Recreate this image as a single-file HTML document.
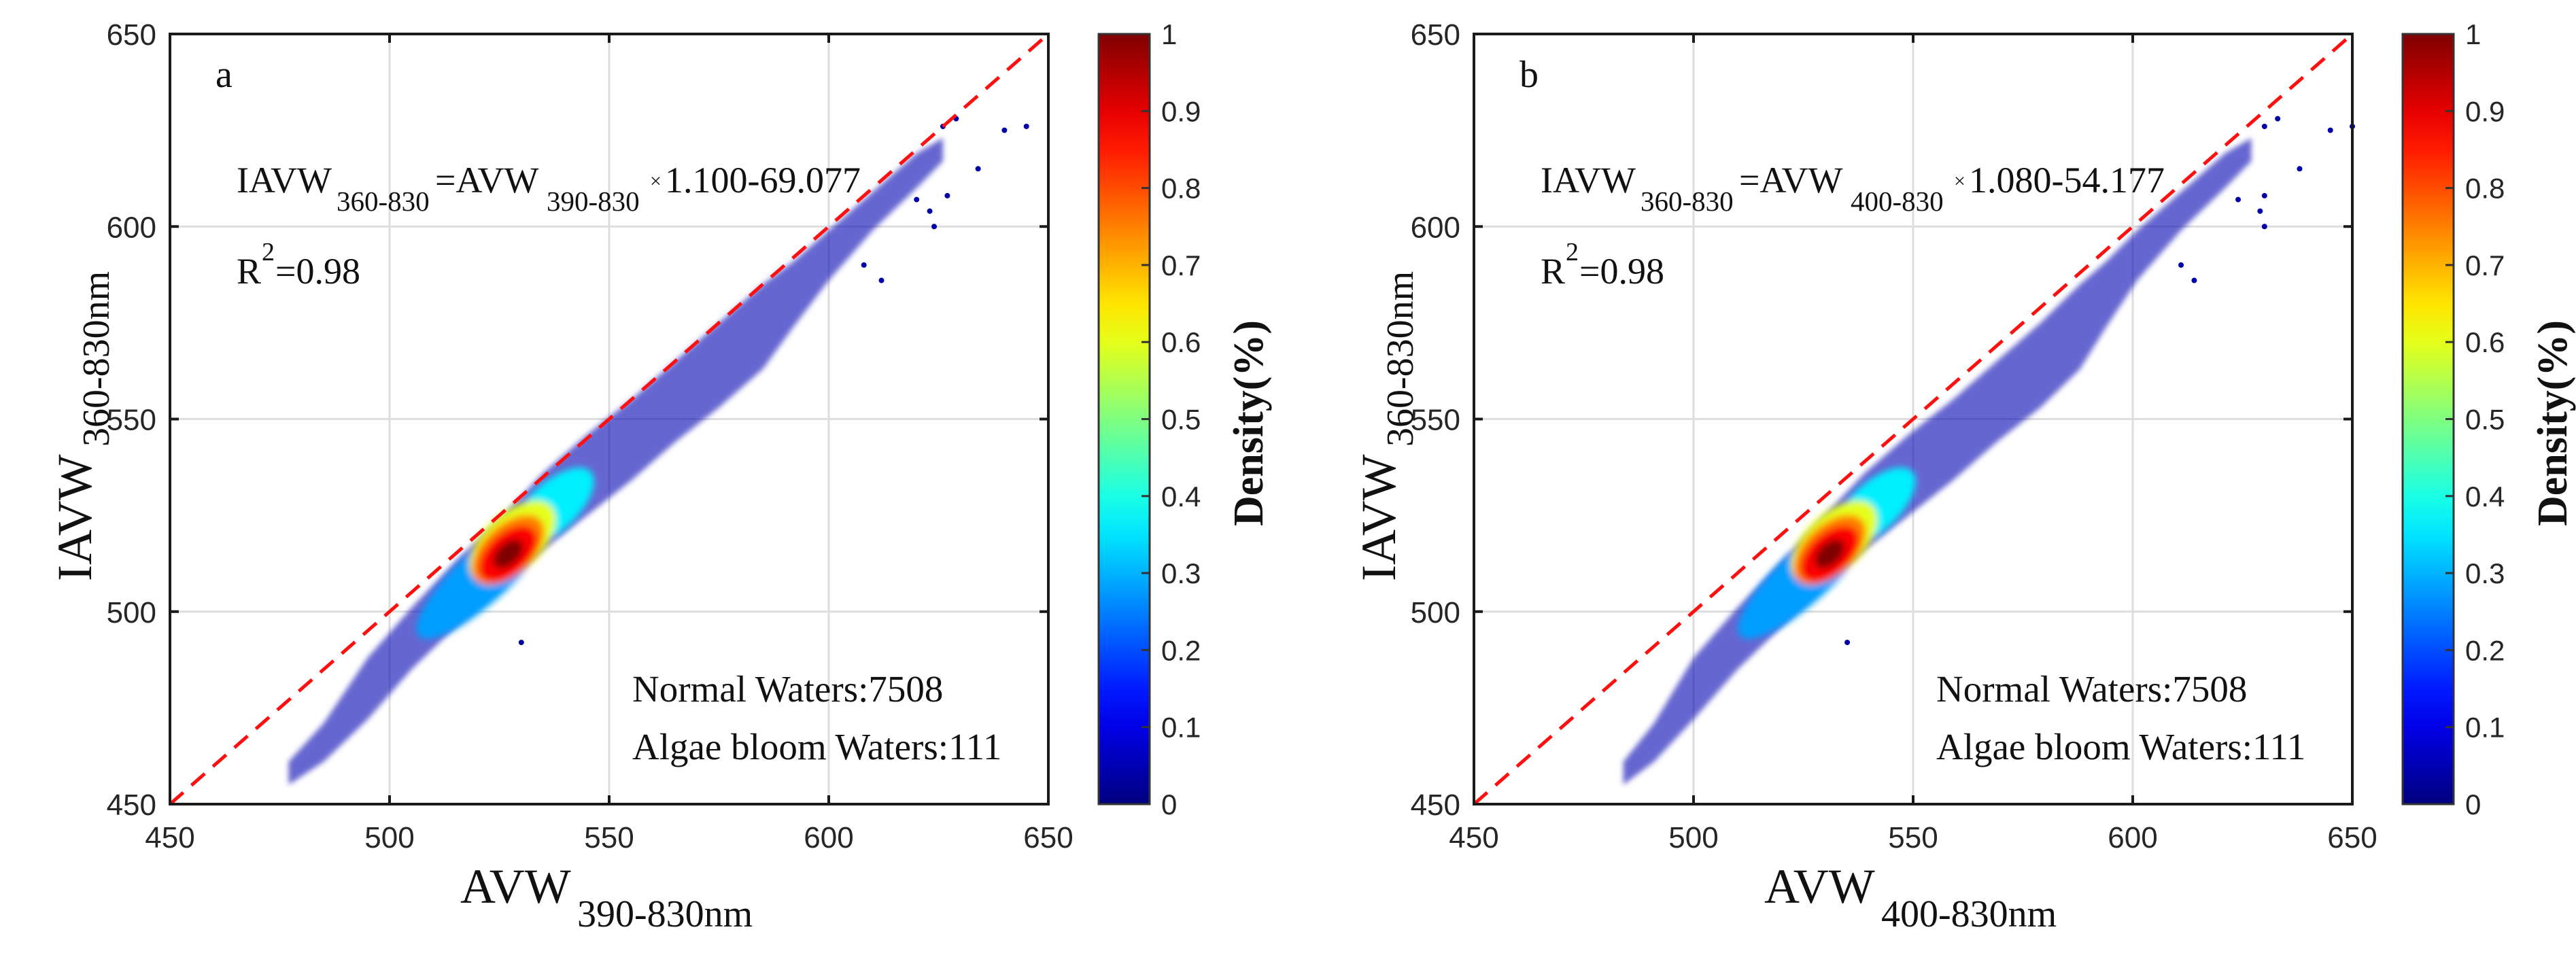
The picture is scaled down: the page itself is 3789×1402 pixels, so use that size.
<!DOCTYPE html>
<html><head><meta charset="utf-8"><title>AVW vs IAVW density scatter</title>
<style>
html,body{margin:0;padding:0;background:#fff;}
svg{display:block;}
.tick{font-family:"Liberation Sans",Arial,sans-serif;font-size:44px;fill:#262626;}
.cbt{font-family:"Liberation Sans",Arial,sans-serif;font-size:42px;fill:#262626;}
.tm{font-family:"Liberation Serif","Times New Roman",serif;fill:#111;}
</style></head>
<body>
<svg id="fig" width="3789" height="1402" viewBox="0 0 3789 1402" xmlns="http://www.w3.org/2000/svg"></svg>
<script>
// ---------- data ----------
const ticks = [450, 500, 550, 600, 650];
const cbTicks = [0, 0.1, 0.2, 0.3, 0.4, 0.5, 0.6, 0.7, 0.8, 0.9, 1];
const cbTickLabels = ["0", "0.1", "0.2", "0.3", "0.4", "0.5", "0.6", "0.7", "0.8", "0.9", "1"];

// panel a : scatter envelope (x, lower y, upper y)
const bandXA = [477, 485, 495, 505, 515, 525, 535, 545, 555, 565, 575, 585, 592, 600, 610, 620, 626];
const bandLoA = [455, 461, 472, 485, 496, 506, 516, 525, 534, 544, 553, 563, 574, 586, 599, 610, 617];
const bandHiA = [461, 471, 488, 501, 513, 524, 536, 546, 555, 565, 575, 585, 591, 599, 609, 619, 623];
// density blobs: centre x, centre y, half-length (x units), half-width (x units), density
const blobXA = [522, 537, 528, 527, 527, 527];
const blobYA = [510, 527, 518, 516, 515, 515];
const blobLA = [21, 12, 12, 10, 8, 4];
const blobWA = [6, 5.5, 6.5, 5.6, 4.6, 2.4];
const blobDA = [0.28, 0.36, 0.6, 0.75, 0.88, 1.0];
const outXA = [645, 640, 634, 627, 624, 623, 612, 530, 620, 626, 629, 608];
const outYA = [626, 625, 615, 608, 600, 604, 586, 492, 607, 626, 628, 590];

// panel b
const bandXB = [484, 491, 500, 510, 520, 529, 539, 549, 559, 569, 579, 588, 594, 601, 611, 621, 627];
const bandLoB = [455, 461, 472, 485, 496, 506, 516, 525, 534, 544, 553, 563, 574, 586, 599, 610, 617];
const bandHiB = [461, 471, 488, 501, 513, 524, 536, 546, 555, 565, 575, 585, 591, 599, 609, 619, 623];
const blobXB = [526, 541, 532, 531, 531, 531];
const blobYB = [510, 527, 518, 516, 515, 515];
const blobLB = [21, 12, 12, 10, 8, 4];
const blobWB = [6, 5.5, 6.5, 5.6, 4.6, 2.4];
const blobDB = [0.28, 0.36, 0.6, 0.75, 0.88, 1.0];
const outXB = [650, 645, 638, 630, 630, 629, 614, 535, 624, 630, 633, 611];
const outYB = [626, 625, 615, 608, 600, 604, 586, 492, 607, 626, 628, 590];

// ---------- helpers ----------
const NS = "http://www.w3.org/2000/svg";
const svg = document.getElementById("fig");
function mk(tag, attrs, parent, text) {
  const e = document.createElementNS(NS, tag);
  for (const k in attrs) e.setAttribute(k, attrs[k]);
  if (text !== undefined) e.textContent = text;
  (parent || svg).appendChild(e);
  return e;
}
function jet(v) {
  const c = t => Math.round(255 * Math.max(0, Math.min(1, t)));
  return "rgb(" + c(1.5 - Math.abs(4 * v - 3)) + "," + c(1.5 - Math.abs(4 * v - 2)) + "," + c(1.5 - Math.abs(4 * v - 1)) + ")";
}
const defs = mk("defs", {});
const grad = mk("linearGradient", {id: "jetg", x1: "0", y1: "1", x2: "0", y2: "0"}, defs);
for (let i = 0; i <= 20; i++) mk("stop", {offset: (i / 20), "stop-color": jet(i / 20)}, grad);
const blur = mk("filter", {id: "soft", x: "-20%", y: "-20%", width: "140%", height: "140%"}, defs);
mk("feGaussianBlur", {stdDeviation: "5"}, blur);
const blur2 = mk("filter", {id: "soft2", x: "-5%", y: "-5%", width: "110%", height: "110%"}, defs);
mk("feGaussianBlur", {stdDeviation: "4"}, blur2);

function panel(o) {
  const L = o.left, R = o.left + 1292, T = 50, B = 1183;
  const sx = v => L + (v - 450) / 200 * (R - L);
  const sy = v => B - (v - 450) / 200 * (B - T);
  const g = mk("g", {});
  
  

  ticks.forEach(t => {
    if (t > 450 && t < 650) {
      const gx = mk("line", {x1: sx(t), x2: sx(t), y1: T, y2: B, stroke: "#dedede", "stroke-width": 3}, g);
      
      
      const gy = mk("line", {x1: L, x2: R, y1: sy(t), y2: sy(t), stroke: "#dedede", "stroke-width": 3}, g);
      
      
    }
  });

  let pts = [];
  for (let i = 0; i < o.bx.length; i++) pts.push(sx(o.bx[i]) + "," + sy(o.bhi[i]));
  for (let i = o.bx.length - 1; i >= 0; i--) pts.push(sx(o.bx[i]) + "," + sy(o.blo[i]));
  const band = mk("polygon", {points: pts.join(" "), fill: "#0000b0", "fill-opacity": 0.6, filter: "url(#soft2)"}, g);
  
  

  for (let i = 0; i < o.ox.length; i++) {
    const d = mk("circle", {cx: sx(o.ox[i]), cy: sy(o.oy[i]), r: 4, fill: "#0000a8"}, g);
    
    
  }

  const pxu = (R - L) / 200;
  const bg = mk("g", {filter: "url(#soft)"}, g);
  
  
  for (let i = 0; i < o.cx.length; i++) {
    const cx = sx(o.cx[i]), cy = sy(o.cy[i]);
    const e = mk("ellipse", {cx: cx, cy: cy, rx: o.cl[i] * pxu, ry: o.cw[i] * pxu, fill: jet(o.cd[i]),
      transform: "rotate(-43 " + cx + " " + cy + ")"}, bg);
    
    
  }

  const dl = mk("line", {x1: sx(450), y1: sy(450), x2: sx(650), y2: sy(650), stroke: "#ff1010", "stroke-width": 5, "stroke-dasharray": "26 16"}, g);
  
  

  const box = mk("rect", {x: L, y: T, width: R - L, height: B - T, fill: "none", stroke: "#1a1a1a", "stroke-width": 4}, g);
  
  

  ticks.forEach(t => {
    [[sx(t), B, sx(t), B - 13], [sx(t), T, sx(t), T + 13], [L, sy(t), L + 13, sy(t)], [R, sy(t), R - 13, sy(t)]].forEach(c => {
      const tk = mk("line", {x1: c[0], y1: c[1], x2: c[2], y2: c[3], stroke: "#1a1a1a", "stroke-width": 4}, g);
      
      
    });
    const xl = mk("text", {x: sx(t), y: 1247, "text-anchor": "middle", class: "tick"}, g, String(t));
    
    
    const yl = mk("text", {x: L - 20, y: sy(t) + 16, "text-anchor": "end", class: "tick"}, g, String(t));
    
    
  });

  const pl = mk("text", {x: L + 67, y: 128, class: "tm", "font-size": 56}, g, o.letter);
  
  

  const eq = mk("g", {}, g);
  
  
  mk("text", {x: L + 98, y: 283, class: "tm", "font-size": 54}, eq, "IAVW");
  mk("text", {x: L + 245, y: 310, class: "tm", "font-size": 41}, eq, "360-830");
  mk("text", {x: L + 390, y: 283, class: "tm", "font-size": 54}, eq, "=AVW");
  mk("text", {x: L + 554, y: 310, class: "tm", "font-size": 41}, eq, o.sub);
  mk("text", {x: L + 706, y: 276, class: "tm", "font-size": 30}, eq, "×");
  mk("text", {x: L + 728, y: 283, class: "tm", "font-size": 54}, eq, o.coef);

  const r2 = mk("g", {}, g);
  
  
  mk("text", {x: L + 98, y: 417, class: "tm", "font-size": 54}, r2, "R");
  mk("text", {x: L + 135, y: 383, class: "tm", "font-size": 38}, r2, "2");
  mk("text", {x: L + 155, y: 417, class: "tm", "font-size": 54}, r2, "=0.98");

  const n1 = mk("text", {x: L + 680, y: 1032, class: "tm", "font-size": 55}, g, "Normal Waters:7508");
  
  
  const n2 = mk("text", {x: L + 680, y: 1117, class: "tm", "font-size": 55}, g, "Algae bloom Waters:111");
  
  

  const xt = mk("g", {}, g);
  
  
  mk("text", {x: L + 427, y: 1328, class: "tm", "font-size": 72}, xt, "AVW");
  mk("text", {x: L + 599, y: 1363, class: "tm", "font-size": 56}, xt, o.xsub);

  const yt = mk("g", {transform: "translate(" + (L - 116) + ",855) rotate(-90)"}, g);
  
  
  mk("text", {x: 0, y: 0, class: "tm", "font-size": 72}, yt, "IAVW");
  mk("text", {x: 198, y: 26, class: "tm", "font-size": 56}, yt, "360-830nm");

  const cL = L + 1366, cR = L + 1441;
  const cb = mk("rect", {x: cL, y: T, width: cR - cL, height: B - T, fill: "url(#jetg)", stroke: "#333", "stroke-width": 3}, g);
  
  
  const cy = v => B - v * (B - T);
  cbTicks.forEach((t, i) => {
    if (t > 0 && t < 1) {
      const ct = mk("line", {x1: cR - 12, x2: cR, y1: cy(t), y2: cy(t), stroke: "#333", "stroke-width": 3}, g);
      
      
    }
    const cl = mk("text", {x: cR + 17, y: cy(t) + 15, class: "cbt"}, g, cbTickLabels[i]);
    
    
  });
  const dt = mk("text", {transform: "translate(" + (L + 1607) + ",774) rotate(-90)", class: "tm", "font-size": 62, "font-weight": "bold"}, g, "Density(%)");
  
  
}

panel({name: "panel-a", left: 250, letter: "a", sub: "390-830", coef: "1.100-69.077", xsub: "390-830nm",
  bx: bandXA, blo: bandLoA, bhi: bandHiA, cx: blobXA, cy: blobYA, cl: blobLA, cw: blobWA, cd: blobDA, ox: outXA, oy: outYA});
panel({name: "panel-b", left: 2168, letter: "b", sub: "400-830", coef: "1.080-54.177", xsub: "400-830nm",
  bx: bandXB, blo: bandLoB, bhi: bandHiB, cx: blobXB, cy: blobYB, cl: blobLB, cw: blobWB, cd: blobDB, ox: outXB, oy: outYB});
</script>
</body></html>
